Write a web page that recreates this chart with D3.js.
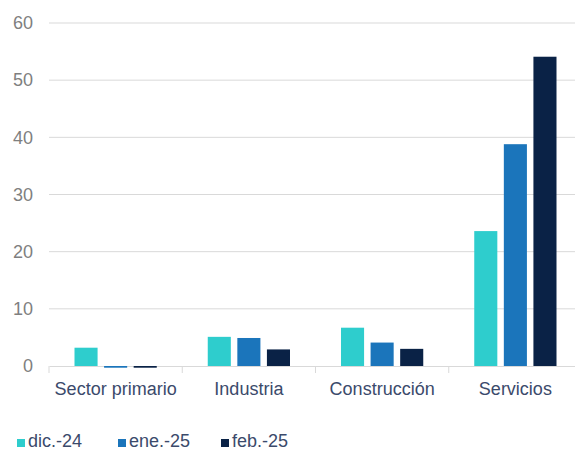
<!DOCTYPE html>
<html>
<head>
<meta charset="utf-8">
<script src="https://cdn.jsdelivr.net/npm/d3@7"></script>
<style>
  body { margin: 0; background: #fff; }
  svg { display: block; font-family: "Liberation Sans", Arial, sans-serif; }
</style>
</head>
<body>
<script>
// Chart data
var categories = ["Sector primario", "Industria", "Construcción", "Servicios"];
var seriesNames = ["dic.-24", "ene.-25", "feb.-25"];
var dic24 = [3.2, 5.1, 6.7, 23.6];
var ene25 = [-0.3, 4.9, 4.1, 38.8];
var feb25 = [-0.3, 2.9, 3.0, 54.1];
var yTicks = [0, 10, 20, 30, 40, 50, 60];
var colors = ["#2ECDCD", "#1B75BB", "#0A2246"];

var seriesValues = [dic24, ene25, feb25];

function setupChart() {
  var svgWidth = 575;
  var svgHeight = 450;

  var svg = d3
    .select("body")
    .append("svg")
    .attr("width", svgWidth)
    .attr("height", svgHeight);

  return { svg, svgWidth, svgHeight };
}

function main() {
  var { svg } = setupChart();

  // plot area edges (right side runs past the window, as in the original)
  var left = 49;
  var right = 582;
  var top = 23;
  var bottom = 366;

  var x0 = d3.scaleBand().domain(categories).range([left, right]);
  var x1 = d3
    .scaleBand()
    .domain(seriesNames)
    .range([25.5, x0.bandwidth() - 25.5])
    .paddingInner(0.22);
  var yScale = d3.scaleLinear().domain([0, 60]).range([bottom, top]);

  // gridlines
  svg
    .append("g")
    .selectAll("line")
    .data(yTicks.filter((d) => d > 0))
    .enter()
    .append("line")
    .attr("x1", left)
    .attr("x2", right)
    .attr("y1", (d) => yScale(d))
    .attr("y2", (d) => yScale(d))
    .attr("stroke", "#D9D9D9")
    .attr("stroke-width", 1);

  // y axis labels
  var leftAxis = d3
    .axisLeft(yScale)
    .tickValues(yTicks)
    .tickSize(0)
    .tickPadding(16);
  var yAxis = svg
    .append("g")
    .attr("transform", `translate(${left}, 0)`)
    .call(leftAxis);
  yAxis.select(".domain").remove();
  yAxis
    .selectAll("text")
    .attr("fill", "#7F7F7F")
    .style("font-size", "18px")
    .style("font-family", "Liberation Sans, Arial, sans-serif");

  // x axis line with ticks at category edges (drawn under the bars)
  var bottomAxis = d3.axisBottom(x0).tickSize(0).tickPadding(12);
  var xAxis = svg
    .append("g")
    .attr("transform", `translate(0, ${bottom})`)
    .call(bottomAxis);
  xAxis.select(".domain").attr("stroke", "#D9D9D9");
  xAxis
    .selectAll("text")
    .attr("fill", "#3B4A6B")
    .attr("dy", "0.95em")
    .style("font-size", "18px")
    .style("font-family", "Liberation Sans, Arial, sans-serif");

  var edges = categories.map((d) => x0(d)).concat([right]);
  svg
    .append("g")
    .selectAll("line")
    .data(edges)
    .enter()
    .append("line")
    .attr("x1", (d) => d)
    .attr("x2", (d) => d)
    .attr("y1", bottom)
    .attr("y2", bottom + 7)
    .attr("stroke", "#D9D9D9");

  // bars
  var groups = svg
    .selectAll(".catGroup")
    .data(categories)
    .enter()
    .append("g")
    .classed("catGroup", true)
    .attr("transform", (d) => `translate(${x0(d)}, 0)`);

  groups
    .selectAll("rect")
    .data((d, i) =>
      seriesNames.map((s, j) => ({ series: s, value: seriesValues[j][i], color: colors[j] }))
    )
    .enter()
    .append("rect")
    .attr("x", (d) => x1(d.series))
    .attr("width", x1.bandwidth())
    .attr("y", (d) => Math.min(yScale(d.value), yScale(0)))
    .attr("height", (d) => Math.abs(yScale(d.value) - yScale(0)))
    .attr("fill", (d) => d.color);

  // legend
  var legendX = [17, 118, 221];
  var legend = svg
    .selectAll(".legendItem")
    .data(seriesNames)
    .enter()
    .append("g")
    .classed("legendItem", true)
    .attr("transform", (d, i) => `translate(${legendX[i]}, 439)`);

  legend
    .append("rect")
    .attr("width", 8)
    .attr("height", 8)
    .attr("fill", (d, i) => colors[i]);

  legend
    .append("text")
    .text((d) => d)
    .attr("x", 11)
    .attr("y", 8)
    .attr("fill", "#3B4A6B")
    .style("font-size", "18px");
}

main();
</script>
</body>
</html>
